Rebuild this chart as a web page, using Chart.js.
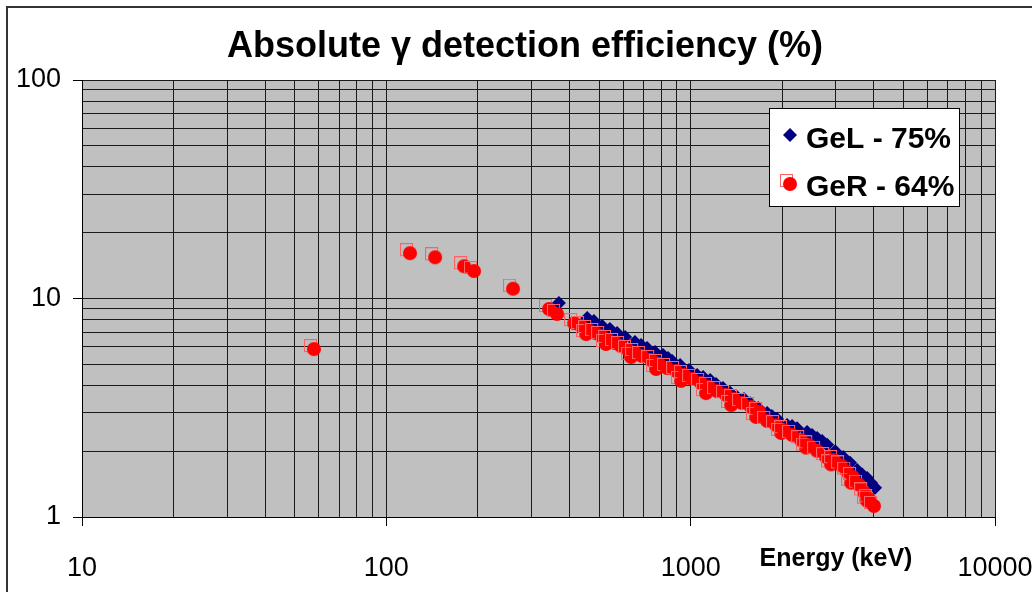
<!DOCTYPE html>
<html>
<head>
<meta charset="utf-8">
<script src="https://cdn.jsdelivr.net/npm/chart.js@4/dist/chart.umd.min.js"></script>
<style>
  html, body { margin: 0; padding: 0; background: #fff; }
  #wrap { width: 1032px; height: 592px; position: relative; }
</style>
</head>
<body>
<div id="wrap"><canvas id="c"></canvas></div>
<script>
// values: energy in keV, efficiency in %
const gelEnergy = [369, 457, 481, 512, 543, 573, 609, 656, 687, 719, 764, 811, 843, 869, 923, 988, 1050, 1099,
  1159, 1212, 1277, 1348, 1420, 1497, 1568, 1667, 1783, 1849, 1923, 2074, 2154, 2237, 2413, 2506, 2603, 2704,
  2808, 2984, 3170, 3340, 3524, 3655, 3800, 3917, 4036];
const gelEff = [9.53, 8.15, 7.89, 7.48, 7.26, 6.95, 6.66, 6.32, 6.12, 5.94, 5.69, 5.51, 5.34, 5.18, 4.96, 4.71, 4.47, 4.37,
  4.24, 4.06, 3.89, 3.70, 3.54, 3.47, 3.32, 3.15, 2.99, 2.90, 2.81, 2.64, 2.61, 2.55, 2.45, 2.37, 2.30, 2.23,
  2.14, 2.00, 1.88, 1.77, 1.64, 1.57, 1.51, 1.43, 1.36];

const gerEnergy = [57.4, 118.7, 143.5, 178.7, 192.7, 258.8, 339.8, 361,
  411, 433, 450, 457, 482, 504, 523, 531, 560, 586, 618, 632, 652, 687, 736, 764, 781, 830, 889, 923, 944, 1003,
  1074, 1115, 1140, 1212, 1297, 1348, 1377, 1464, 1568, 1629, 1667, 1770, 1893, 1968, 2012, 2138, 2290, 2377, 2432,
  2583, 2767, 2872, 2938, 3098, 3244, 3342, 3390, 3548, 3688, 3770, 3828, 3972];
const gerEff = [5.93, 16.3, 15.6, 14.2, 13.5, 11.2, 9.05, 8.59,
  7.80, 7.56, 6.95, 7.25, 7.03, 6.81, 6.26, 6.53, 6.32, 6.12, 5.87, 5.46, 5.69, 5.51, 5.28, 4.81, 5.07, 4.86, 4.71, 4.24, 4.51, 4.33,
  4.15, 3.73, 3.98, 3.81, 3.66, 3.29, 3.50, 3.36, 3.22, 2.90, 3.06, 2.78, 2.66, 2.45, 2.52, 2.40, 2.27, 2.10, 2.15,
  2.03, 1.90, 1.76, 1.84, 1.74, 1.63, 1.45, 1.54, 1.42, 1.31, 1.20, 1.22, 1.135];

const seriesLabels = ['GeL - 75%', 'GeR - 64%'];
const titleText = 'Absolute \u03b3 detection efficiency (%)';
const xTitle = 'Energy (keV)';

const xGrid = [10, 20, 30, 40, 50, 60, 70, 80, 90, 100, 200, 300, 400, 500, 600, 700, 800, 900,
  1000, 2000, 3000, 4000, 5000, 6000, 7000, 8000, 9000, 10000];
const xLabels = [10, 100, 1000, 10000];
const yGrid = [1, 2, 3, 4, 5, 6, 7, 8, 9, 10, 20, 30, 40, 50, 60, 70, 80, 90, 100];
const yLabels = [1, 10, 100];

const FONT = "'Liberation Sans', Arial, sans-serif";

// red marker: filled circle with a light square outline peeking out behind it
const gerMarker = (() => {
  const cv = document.createElement('canvas');
  cv.width = 18; cv.height = 18;
  const g = cv.getContext('2d');
  g.strokeStyle = '#ff6262'; g.lineWidth = 1;
  g.strokeRect(0.5, 0.5, 12, 12);
  g.fillStyle = '#ff0000';
  g.beginPath(); g.arc(10, 10, 7, 0, Math.PI * 2); g.fill();
  return cv;
})();

const pts = (xs, ys) => xs.map((x, i) => ({ x, y: ys[i] }));

const decor = {
  id: 'decor',
  beforeDraw(chart) {
    const { ctx, chartArea: a } = chart;
    ctx.save();
    ctx.fillStyle = '#fff';
    ctx.fillRect(0, 0, chart.width, chart.height);
    ctx.strokeStyle = '#333'; ctx.lineWidth = 2;
    ctx.beginPath(); ctx.moveTo(7, chart.height); ctx.lineTo(7, 7); ctx.lineTo(chart.width, 7); ctx.stroke();
    ctx.fillStyle = '#c0c0c0';
    ctx.fillRect(a.left, a.top, a.right - a.left, a.bottom - a.top);
    ctx.restore();
  },
  afterDraw(chart) {
    const { ctx } = chart;
    ctx.save();
    ctx.fillStyle = '#000';
    ctx.textAlign = 'center'; ctx.textBaseline = 'middle';
    ctx.font = 'bold 36px ' + FONT;
    ctx.fillText(titleText, 525, 47);
    ctx.font = 'bold 25px ' + FONT;
    ctx.fillText(xTitle, 836, 559);

    // legend box
    ctx.fillStyle = '#fff';
    ctx.fillRect(769, 108, 191, 99);
    ctx.strokeStyle = '#000'; ctx.lineWidth = 1;
    ctx.strokeRect(769.5, 108.5, 190, 98);
    ctx.font = 'bold 30px ' + FONT;
    ctx.textAlign = 'left';
    ctx.fillStyle = '#000';
    ctx.fillText(seriesLabels[0], 806, 140);
    ctx.fillText(seriesLabels[1], 806, 188);
    ctx.fillStyle = '#000080';
    ctx.beginPath(); ctx.moveTo(790, 128); ctx.lineTo(797, 135); ctx.lineTo(790, 142); ctx.lineTo(783, 135); ctx.closePath(); ctx.fill();
    ctx.drawImage(gerMarker, 789 - 9, 183 - 9);
    ctx.restore();
  }
};

const gridColor = '#1a1a1a';

new Chart(document.getElementById('c'), {
  type: 'scatter',
  data: {
    datasets: [
      { label: seriesLabels[0], data: pts(gelEnergy, gelEff), pointStyle: 'rectRot', order: 1,
        pointRadius: 7, pointHoverRadius: 7, backgroundColor: '#000080', borderColor: '#000080', borderWidth: 0 },
      { label: seriesLabels[1], data: pts(gerEnergy, gerEff), pointStyle: gerMarker, order: 0,
        backgroundColor: '#ff0000', borderColor: '#ff0000' }
    ]
  },
  options: {
    responsive: true, maintainAspectRatio: false, animation: false,
    layout: { padding: { top: 80, right: 37, left: 0, bottom: 0 } },
    plugins: { legend: { display: false }, title: { display: false }, tooltip: { enabled: false } },
    scales: {
      x: {
        type: 'logarithmic', min: 10, max: 10000,
        afterBuildTicks: s => { s.ticks = xGrid.map(v => ({ value: v })); },
        afterFit: s => { s.height = 75; s.paddingLeft = 0; s.paddingRight = 0; },
        grid: { color: gridColor, lineWidth: 1, tickLength: 9,
          tickColor: c => (c.tick && xLabels.includes(c.tick.value)) ? '#000' : 'rgba(0,0,0,0)' },
        border: { display: true, color: '#000', width: 1 },
        ticks: { autoSkip: false, maxRotation: 0, padding: 26, color: '#000',
          font: { family: FONT, size: 27 },
          callback: v => xLabels.includes(v) ? String(v) : '' }
      },
      y: {
        type: 'logarithmic', min: 1, max: 100,
        afterBuildTicks: s => { s.ticks = yGrid.map(v => ({ value: v })); },
        afterFit: s => { s.width = 82; s.paddingTop = 0; s.paddingBottom = 0; },
        grid: { color: gridColor, lineWidth: 1, tickLength: 9,
          tickColor: c => (c.tick && yLabels.includes(c.tick.value)) ? '#000' : 'rgba(0,0,0,0)' },
        border: { display: true, color: '#000', width: 1 },
        ticks: { autoSkip: false, padding: 12, color: '#000',
          font: { family: FONT, size: 27 },
          callback: v => yLabels.includes(v) ? String(v) : '' }
      }
    }
  },
  plugins: [decor]
});
</script>
</body>
</html>
